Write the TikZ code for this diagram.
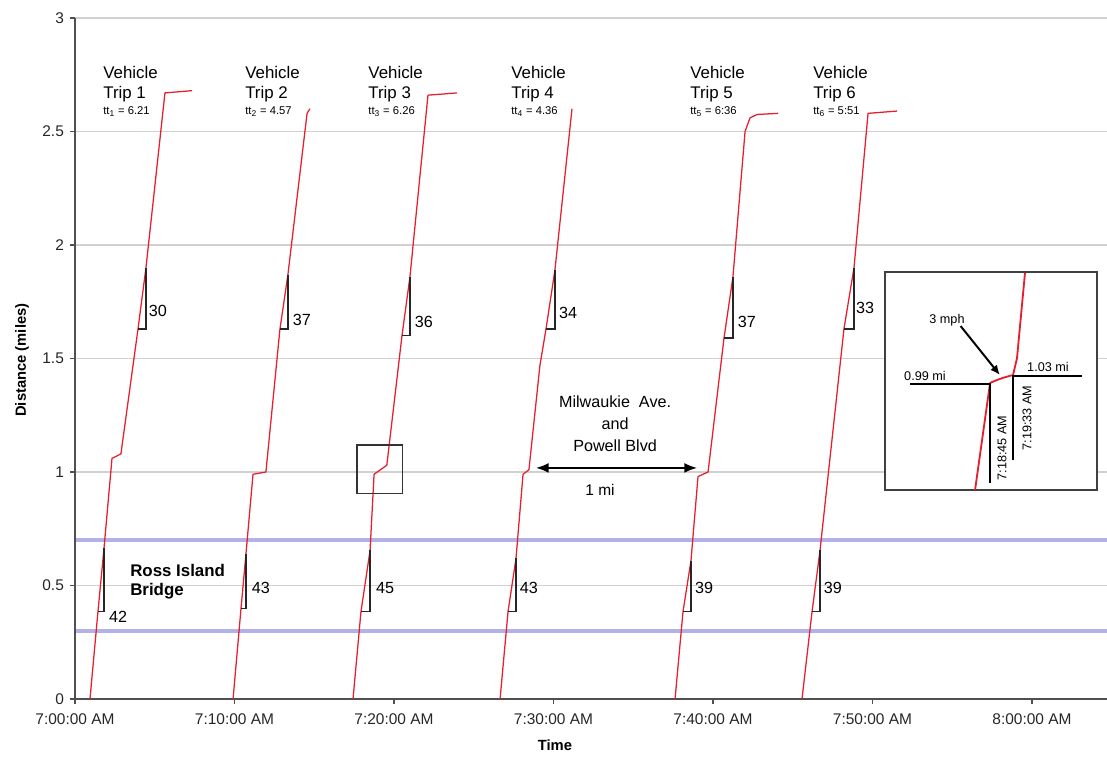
\documentclass[tikz,border=0pt]{standalone}
\usepackage{fontspec}
\setmainfont{Liberation Sans}
\usetikzlibrary{arrows.meta}
\definecolor{tripred}{RGB}{230,30,45}
\definecolor{bridgeblue}{RGB}{178,178,232}
\definecolor{gridgray}{RGB}{208,208,208}
\definecolor{axisgray}{RGB}{80,80,80}

\begin{document}
\begin{tikzpicture}[x=0.39875cm, y=5.675cm,
            every node/.style={font=\fontsize{11}{13}\selectfont},
            trip/.style={tripred, line width=0.9pt, line join=round},
            slope/.style={black!85, line width=0.9pt},
            heading/.style={anchor=north west, align=left, inner sep=0pt, font=\fontsize{12}{14.2}\selectfont},
            rate/.style={inner sep=0pt, font=\fontsize{11.5}{13}\selectfont},
            ticklabel/.style={text=black!85},
            inset/.style={inner sep=0pt, font=\fontsize{9}{11}\selectfont},
            leader/.style={black, line width=1.4pt},
            tip/.style={-{Latex[length=7pt,width=6pt]}}]
\useasboundingbox (-4.702,-0.2731) rectangle (64.702,3.0793);

\foreach \d in {0.5,1,1.5,2,2.5,3}
    \draw[gridgray, line width=0.8pt] (0,\d) -- (64.702,\d);
\foreach \d in {0.3,0.7}
    \draw[bridgeblue, line width=2.4pt] (0,\d) -- (64.702,\d);
\draw[axisgray, line width=1pt] (0,3) -- (0,0) -- (64.702,0);
\foreach \d in {0,0.5,1,1.5,2,2.5,3}
    \draw[axisgray, line width=0.8pt] (0,\d) -- (-0.31,\d) node[ticklabel, anchor=east, inner sep=0pt, xshift=-4pt] {\d};
\foreach \m/\clock in {0/7:00:00, 10/7:10:00, 20/7:20:00, 30/7:30:00, 40/7:40:00, 50/7:50:00, 60/8:00:00}
    \draw[axisgray, line width=0.8pt] (\m,0) -- (\m,-0.022) node[ticklabel, anchor=north, yshift=-3pt] {\clock\ AM};
\node[font=\fontsize{10.5}{12}\selectfont\bfseries] (time) at (30.09,-0.203) {Time};
\node[font=\fontsize{10.5}{12}\selectfont\bfseries, rotate=90] (distance) at (-3.32,1.493) {Distance (miles)};

\draw[trip] (0.94,0) -- (1.44,0.385) coordinate (a1) -- (1.82,0.665) coordinate (b1) -- (2.32,1.06) -- (2.88,1.08)
    -- (3.95,1.63) coordinate (c1) -- (4.45,1.90) coordinate (d1) -- (5.64,2.67) -- (7.34,2.68);
\draw[trip] (9.91,0) -- (10.41,0.40) coordinate (a2) -- (10.72,0.64) coordinate (b2) -- (11.16,0.99) -- (11.97,1.00)
    -- (12.85,1.63) coordinate (c2) -- (13.35,1.87) coordinate (d2) -- (14.55,2.58) -- (14.73,2.60);
\draw[trip] (17.43,0) -- (17.93,0.385) coordinate (a3) -- (18.50,0.655) coordinate (b3) -- (18.75,0.99) -- (19.55,1.03)
    -- (20.50,1.60) coordinate (c3) -- (21.00,1.86) coordinate (d3) -- (22.13,2.66) -- (23.95,2.67);
\draw[trip] (26.65,0) -- (27.15,0.385) coordinate (a4) -- (27.65,0.62) coordinate (b4) -- (28.09,0.99) -- (28.46,1.01)
    -- (29.15,1.47) -- (29.53,1.63) coordinate (c4) -- (30.09,1.89) coordinate (d4) -- (31.16,2.60);
\draw[trip] (37.62,0) -- (38.12,0.385) coordinate (a5) -- (38.62,0.61) coordinate (b5) -- (39.06,0.98) -- (39.69,1.00)
    -- (40.69,1.59) coordinate (c5) -- (41.25,1.86) coordinate (d5) -- (42.01,2.50) -- (42.32,2.56) -- (42.76,2.575) -- (44.08,2.58);
\draw[trip] (45.58,0) -- (46.21,0.385) coordinate (a6) -- (46.71,0.655) coordinate (b6)
    -- (48.21,1.63) coordinate (c6) -- (48.84,1.90) coordinate (d6) -- (49.72,2.58) -- (51.54,2.59);
\foreach \i in {1,...,6}
    \draw[slope] (b\i) |- (a\i) (d\i) |- (c\i);

\foreach \t/\d/\v [count=\k] in {5.20/1.709/30, 2.70/0.361/42, 14.23/1.670/37, 11.66/0.489/43, 21.88/1.661/36, 19.44/0.489/45,
        30.91/1.700/34, 28.46/0.489/43, 42.13/1.661/37, 39.44/0.489/39, 49.53/1.722/33, 47.52/0.489/39}
    \node[rate] (rate\k) at (\t,\d) {\v};
\foreach \t/\k/\ttime in {1.76/1/6.21, 10.66/2/4.57, 18.38/3/6.26, 27.34/4/4.36, 38.56/5/6:36, 46.27/6/5:51}
    \node[heading] (trip\k) at (\t,2.789) {Vehicle\\Trip \k\\[-2.5pt]{\fontsize{8}{9}\selectfont tt\textsubscript{\k} = \ttime}};

\node[font=\fontsize{12}{13.5}\selectfont\bfseries, anchor=west, align=left, inner sep=0pt] (ross) at (3.45,0.515) {Ross Island\\Bridge};
\node[align=center, font=\fontsize{11.5}{15.6}\selectfont, inner sep=0pt] (milwaukie) at (33.86,1.211) {Milwaukie\ \ Ave.\\and\\Powell Blvd};
\coordinate (west4) at (28.90,1.018);
\coordinate (east5) at (39.00,1.018);
\draw[{Latex[length=9pt,width=7pt]}-{Latex[length=9pt,width=7pt]}, line width=1.2pt] (west4) -- (east5);
\node (onemile) at (32.92,0.921) {1 mi};
\draw[black!80, line width=0.8pt] (17.68,0.907) rectangle (20.56,1.119);

\draw[black!75, line width=0.9pt, fill=white] (50.78,0.921) rectangle (64.08,1.881);
\draw[trip, line width=1.3pt] (56.43,0.921) -- (57.37,1.392) .. controls (57.9,1.41) and (58.4,1.42) .. (58.81,1.427)
    -- (59.06,1.502) -- (59.56,1.877);
\coordinate (mi099) at (52.35,1.388);
\coordinate (enter) at (57.37,1.388);
\coordinate (am1845) at (57.37,0.952);
\coordinate (mi103) at (63.13,1.423);
\coordinate (leave) at (58.81,1.423);
\coordinate (am1933) at (58.81,1.053);
\coordinate (slow) at (57.99,1.427);
\draw[leader] (mi099) -- (enter) -- (am1845);
\draw[leader] (mi103) -- (leave) -- (am1933);
\node[inset] (lab099) at (53.29,1.423) {0.99 mi};
\node[inset] (lab103) at (61.00,1.463) {1.03 mi};
\node[inset, rotate=90] (lab1845) at (58.12,1.106) {7:18:45 AM};
\node[inset, rotate=90] (lab1933) at (59.69,1.238) {7:19:33 AM};
\node[inset] (mph) at (54.67,1.670) {3 mph};
\draw[leader, tip] ([xshift=-3pt]mph.south east) -- (slow);

\end{tikzpicture}
\end{document}
